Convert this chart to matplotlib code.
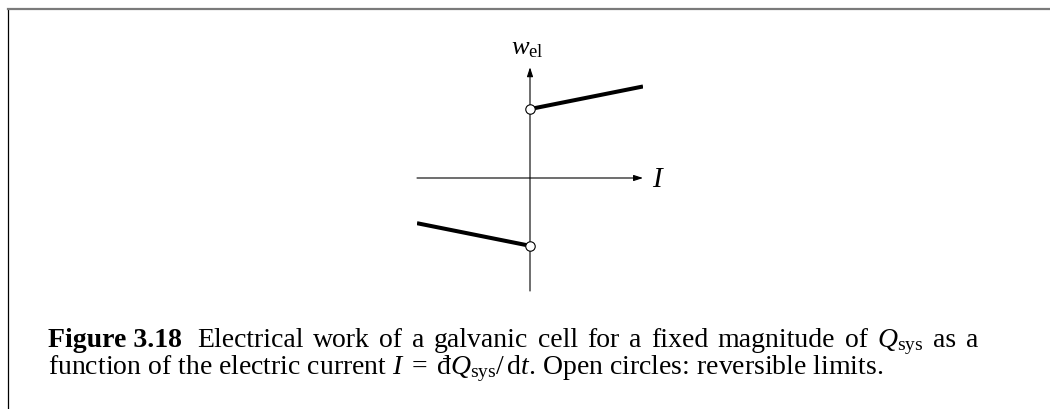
import numpy as np
import matplotlib.pyplot as plt

plt.rcParams['font.family'] = ['Liberation Serif', 'DejaVu Serif']
plt.rcParams['mathtext.fontset'] = 'custom'
plt.rcParams['mathtext.rm'] = 'Liberation Serif'
plt.rcParams['mathtext.it'] = 'Liberation Serif:italic'
plt.rcParams['mathtext.bf'] = 'Liberation Serif:bold'

# branches of w_el(I): irreversible for I > 0 and I < 0
current_pos = [0.0, 1.0]
work_pos = [0.61, 0.81]
current_neg = [-1.0, 0.0]
work_neg = [-0.40, -0.60]
# reversible limits (open circles)
limit_current = [0.0, 0.0]
limit_work = [0.61, -0.60]

line1_words = ['Electrical', 'work', 'of', 'a', 'galvanic', 'cell', 'for', 'a',
               'fixed', 'magnitude', 'of', r'$Q_{\mathrm{sys}}$', 'as', 'a']
line2 = (r'function of the electric current $I\;=\;$đ$Q_{\mathrm{sys}}/\,\mathrm{d}t$.'
         ' Open circles: reversible limits.')

W, H = 1050, 410
fig = plt.figure(figsize=(W / 100, H / 100), dpi=100)

# page frame: gray rule on top, thin black line on the left
frame = fig.add_axes([8 / W, 0, 1 - 8 / W, 1 - 10 / H])
frame.set_xticks([])
frame.set_yticks([])
frame.patch.set_alpha(0)
frame.spines['right'].set_visible(False)
frame.spines['bottom'].set_visible(False)
frame.spines['top'].set_color('#7a7a7a')
frame.spines['top'].set_linewidth(1.6)
frame.spines['left'].set_linewidth(0.9)

# sketch
ax = fig.add_axes([417 / W, (H - 292) / H, 226 / W, 226 / H])
ax.set_xlim(-1, 1)
ax.set_ylim(-1, 1)
ax.axis('off')

arrow = dict(arrowstyle='-|>,head_length=0.55,head_width=0.18', color='black',
             lw=0.8, mutation_scale=10, shrinkA=0, shrinkB=0)
ax.annotate('', xy=(1, 0), xytext=(-1, 0), arrowprops=arrow)
ax.annotate('', xy=(0, 0.98), xytext=(0, -1), arrowprops=arrow)

ax.plot(current_pos, work_pos, color='black', lw=2.9, solid_capstyle='butt')
ax.plot(current_neg, work_neg, color='black', lw=2.9, solid_capstyle='butt')
ax.plot(limit_current, limit_work, 'o', ms=6.8, mfc='white', mec='black',
        mew=0.8, zorder=5)

ax.text(1.08, -0.07, '$I$', fontsize=21, ha='left', va='baseline')
ax.text(-0.02, 1.106, r'$w_{\mathrm{el}}$', fontsize=19, ha='center', va='baseline')

# caption, first line justified
cap_size = 20
left, right = 48, 978
y1 = (H - 347) / H
y2 = (H - 374) / H

head = fig.text(left / W, y1, 'Figure 3.18', fontsize=cap_size, fontweight='bold')
words = [fig.text(0, y1, w, fontsize=cap_size) for w in line1_words]
fig.text(left / W, y2, line2, fontsize=cap_size)

fig.canvas.draw()
renderer = fig.canvas.get_renderer()
tokens = [head] + words
widths = [t.get_window_extent(renderer).width for t in tokens]
weights = [1.6] + [1.0] * (len(words) - 1)
space = (right - left - sum(widths)) / sum(weights)
x = left
for i, t in enumerate(tokens):
    t.set_x(x / W)
    if i < len(weights):
        x += widths[i] + weights[i] * space

fig.savefig('out.png', dpi=100)
